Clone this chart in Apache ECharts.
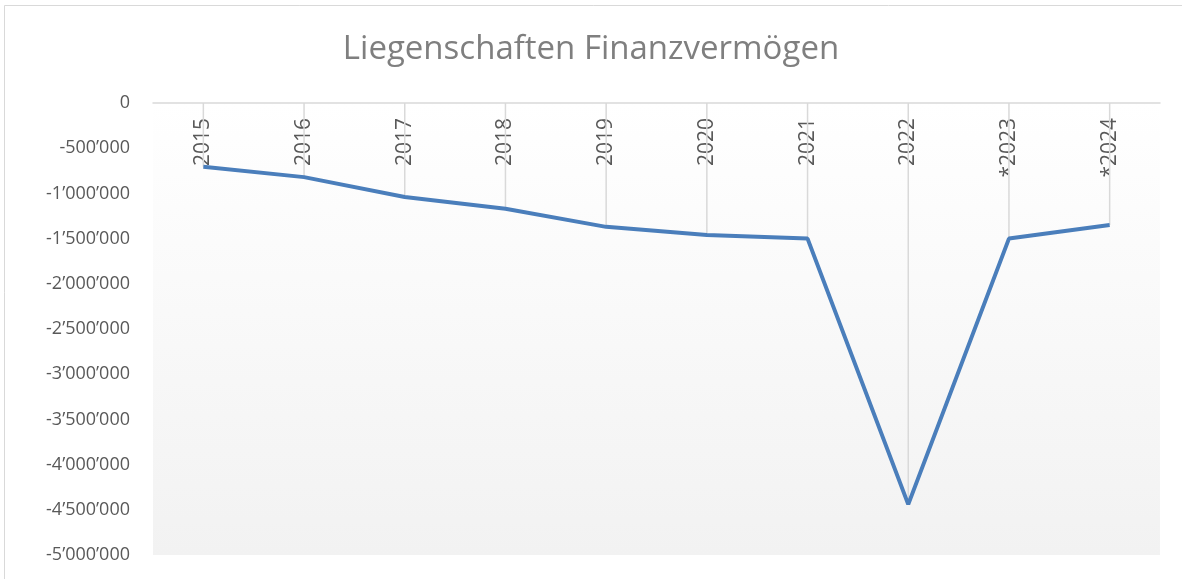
<!DOCTYPE html>
<html>
<head>
<meta charset="utf-8">
<script src="https://cdn.jsdelivr.net/npm/echarts@6/dist/echarts.min.js"></script>
<style>
  html, body { margin: 0; padding: 0; background: #fff; }
  #chart { width: 1182px; height: 579px; }
</style>
</head>
<body>
<div id="chart"></div>
<script>
var years = ['2015', '2016', '2017', '2018', '2019', '2020', '2021', '2022', '*2023', '*2024']
var values = [-705000, -820000, -1040000, -1170000, -1370000, -1460000, -1500000, -4440000, -1500000, -1350000]
var yMin = -5000000
var yMax = 0
var yStep = 500000

function fmt (v) {
  var s = Math.abs(v).toString().replace(/\B(?=(\d{3})+(?!\d))/g, '\u2019')
  return (v < 0 ? '-' : '') + s
}

var chart = echarts.init(document.getElementById('chart'))
var option = {
  animation: false,
  backgroundColor: '#fff',
  title: {
    text: 'Liegenschaften Finanzvermögen',
    left: 'center',
    top: 28,
    textStyle: {
      fontFamily: 'Open Sans',
      fontSize: 33,
      fontWeight: 'normal',
      color: '#7f7f7f'
    }
  },
  graphic: [{
    type: 'rect',
    shape: { x: 4.5, y: 5.5, width: 1300, height: 700 },
    style: { fill: 'none', stroke: '#d9d9d9', lineWidth: 1 },
    silent: true
  }],
  grid: {
    left: 153,
    right: 22,
    top: 103,
    bottom: 24,
    show: true,
    borderWidth: 0,
    backgroundColor: new echarts.graphic.LinearGradient(0, 0, 0, 1, [
      { offset: 0, color: '#ffffff' },
      { offset: 1, color: '#f2f2f2' }
    ])
  },
  xAxis: {
    type: 'category',
    position: 'top',
    data: years,
    boundaryGap: true,
    axisLine: { lineStyle: { color: '#d9d9d9', width: 1.5 } },
    axisTick: { show: false },
    splitLine: { show: false },
    axisLabel: {
      inside: true,
      rotate: 90,
      margin: 15,
      fontFamily: 'Open Sans',
      fontSize: 21,
      color: '#595959'
    }
  },
  yAxis: {
    type: 'value',
    min: yMin,
    max: yMax,
    interval: yStep,
    axisLine: { show: false },
    axisTick: { show: false },
    splitLine: { show: false },
    axisLabel: {
      margin: 23,
      fontFamily: 'Open Sans',
      fontSize: 18,
      color: '#595959',
      formatter: fmt
    }
  },
  series: [
    {
      // drop lines from the axis down to each point
      type: 'bar',
      data: values,
      barWidth: 1.5,
      z: 1,
      itemStyle: { color: '#d9d9d9' }
    },
    {
      type: 'line',
      data: values,
      z: 3,
      symbol: 'none',
      lineStyle: { color: '#4a7ebb', width: 4 }
    }
  ]
}
chart.setOption(option)
</script>
</body>
</html>
